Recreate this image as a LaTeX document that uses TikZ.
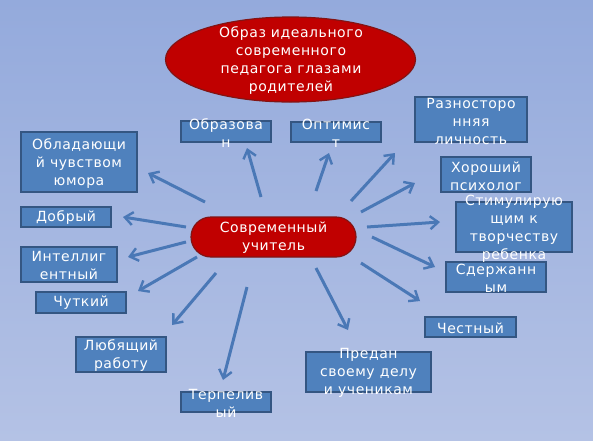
\documentclass[tikz,border=0pt]{standalone}
\usepackage{fontspec}
\setmainfont[LetterSpace=4]{DejaVu Sans}
\usetikzlibrary{arrows.meta,shapes.geometric}
\definecolor{bgtop}{RGB}{148,170,220}
\definecolor{bgbot}{RGB}{180,194,229}
\definecolor{boxfill}{RGB}{79,129,189}
\definecolor{boxline}{RGB}{52,86,130}
\definecolor{arrowcol}{RGB}{74,120,182}
\definecolor{redfill}{RGB}{192,0,0}
\definecolor{redline}{RGB}{130,20,20}
\tikzset{
  qbox/.style={draw=boxline,line width=1.2pt,fill=boxfill},
  qtext/.style={text=white,align=center,font=\fontsize{14}{18}\selectfont,inner sep=0pt},
  qarrow/.style={draw=arrowcol,line width=3pt,-{Straight Barb[length=8pt,width=13pt,line width=2.4pt]}},
}
\begin{document}
\begin{tikzpicture}[x=1pt,y=-1pt]
\shade[top color=bgtop,bottom color=bgbot] (0,0) rectangle (593,440);
\useasboundingbox (0,0) rectangle (593,440);

% title ellipse
\node[ellipse,draw=redline,line width=1.2pt,fill=redfill,minimum width=250pt,minimum height=85pt,inner sep=0pt] (title) at (290.5,59.5) {};
\node[qtext] (titletext) at (291,61) {Образ идеального\\современного\\педагога глазами\\родителей};

% central pill
\node[draw=redline,line width=1.2pt,fill=redfill,rounded corners=20pt,minimum width=165pt,minimum height=40pt,inner sep=0pt] (center) at (273.5,237) {};
\node[qtext] (centertext) at (273.5,238) {Современный\\учитель};

% boxes
\node[qbox,minimum width=90pt,minimum height=21pt,inner sep=0pt] (obraz) at (226,131.5) {};
\node[qtext] at (226,133) {Образова\\н};
\node[qbox,minimum width=90pt,minimum height=20pt,inner sep=0pt] (optim) at (336,132) {};
\node[qtext] at (336,133) {Оптимис\\т};
\node[qbox,minimum width=112pt,minimum height=45pt,inner sep=0pt] (razno) at (471,119.5) {};
\node[qtext] at (471,121) {Разносторо\\нняя\\личность};
\node[qbox,minimum width=116pt,minimum height=60pt,inner sep=0pt] (obl) at (79,162) {};
\node[qtext] at (79,164) {Обладающи\\й чувством\\юмора};
\node[qbox,minimum width=90pt,minimum height=20pt,inner sep=0pt] (dobr) at (66,217) {};
\node[qtext] at (66,218) {Добрый};
\node[qbox,minimum width=96pt,minimum height=35pt,inner sep=0pt] (intel) at (69,264.5) {};
\node[qtext] at (69,265) {Интеллиг\\ентный};
\node[qbox,minimum width=90pt,minimum height=21pt,inner sep=0pt] (chut) at (81,302.5) {};
\node[qtext] at (81,303) {Чуткий};
\node[qbox,minimum width=90pt,minimum height=35pt,inner sep=0pt] (lyub) at (121,354.5) {};
\node[qtext] at (121,356) {Любящий\\работу};
\node[qbox,minimum width=90pt,minimum height=20pt,inner sep=0pt] (terp) at (226,402) {};
\node[qtext] at (226,403) {Терпелив\\ый};
\node[qbox,minimum width=125pt,minimum height=40pt,inner sep=0pt] (predan) at (368.5,372) {};
\node[qtext] at (368.5,373) {Предан\\своему делу\\и ученикам};
\node[qbox,minimum width=91pt,minimum height=20pt,inner sep=0pt] (chest) at (470.5,327) {};
\node[qtext] at (470.5,328) {Честный};
\node[qbox,minimum width=100pt,minimum height=30pt,inner sep=0pt] (sderzh) at (496,277) {};
\node[qtext] at (496,278) {Сдержанн\\ым};
\node[qbox,minimum width=116pt,minimum height=50pt,inner sep=0pt] (stim) at (514,227) {};
\node[qtext] at (514,229) {Стимулирую\\щим к\\творчеству\\ребенка};
\node[qbox,minimum width=90pt,minimum height=35pt,inner sep=0pt] (khor) at (486,174.5) {};
\node[qtext] at (486,176) {Хороший\\психолог};

% arrow end points
\coordinate (t1) at (205,202); \coordinate (h1) at (148,173);
\coordinate (t2) at (261,197); \coordinate (h2) at (247,148);
\coordinate (t3) at (186,227); \coordinate (h3) at (123,217);
\coordinate (t4) at (186,242); \coordinate (h4) at (128,257);
\coordinate (t5) at (197,257); \coordinate (h5) at (138,291);
\coordinate (t6) at (216,273); \coordinate (h6) at (172,325);
\coordinate (t7) at (247,287); \coordinate (h7) at (223,380);
\coordinate (t8) at (316,191); \coordinate (h8) at (329,153);
\coordinate (t9) at (351,201); \coordinate (h9) at (395,153);
\coordinate (t10) at (361,212); \coordinate (h10) at (415,183);
\coordinate (t11) at (367,227); \coordinate (h11) at (440,222);
\coordinate (t12) at (372,237); \coordinate (h12) at (435,267);
\coordinate (t13) at (361,263); \coordinate (h13) at (420,301);
\coordinate (t14) at (316,268); \coordinate (h14) at (348,330);

\foreach \i in {1,...,14} { \draw[qarrow] (t\i) -- (h\i); }
\end{tikzpicture}
\end{document}
